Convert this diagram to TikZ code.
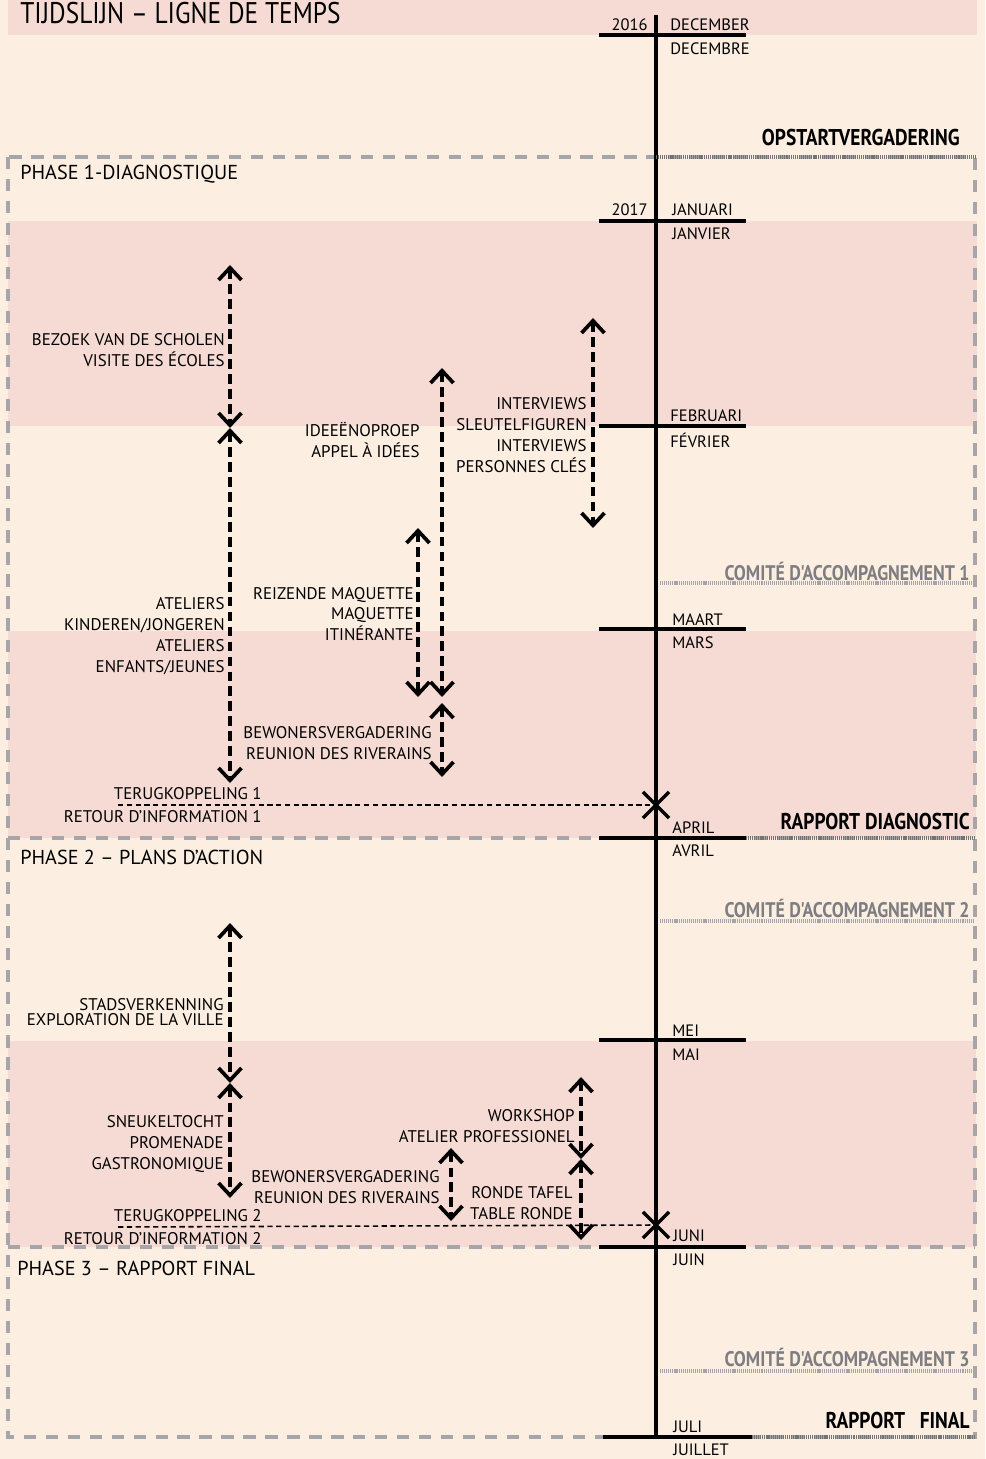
\documentclass[tikz,border=0pt]{standalone}
\usepackage{fontspec}
\setmainfont{PT Sans}
\newfontfamily\markfont[FakeStretch=0.85]{PT Sans}
\usetikzlibrary{arrows.meta,shapes.misc}

\definecolor{cream}{RGB}{252,239,225}
\definecolor{blush}{RGB}{246,219,213}
\definecolor{phasegray}{RGB}{165,165,170}
\definecolor{comitegray}{RGB}{125,125,130}

\begin{document}
\begin{tikzpicture}[
    x=0.02cm, y=-0.02cm,
    band/.style={fill=blush, draw=none},
    phasebox/.style={draw=phasegray, line width=2pt, dash pattern=on 7pt off 5.5pt},
    phaselabel/.style={font=\fontsize{11.5}{13}\selectfont, anchor=west, inner sep=0pt},
    timeline/.style={line width=2.4pt, black},
    monthtick/.style={line width=2.4pt, black},
    monthlabel/.style={font=\fontsize{9.4}{11}\selectfont, anchor=west, inner sep=0pt},
    yearlabel/.style={font=\fontsize{9.4}{11}\selectfont, anchor=east, inner sep=0pt},
    milestone/.style={font=\markfont\bfseries\fontsize{13}{15}\selectfont, anchor=east, inner sep=0pt},
    comite/.style={font=\markfont\bfseries\fontsize{12}{14}\selectfont, text=comitegray, anchor=east, inner sep=0pt},
    milestoneline/.style={line width=2pt, black!55, dash pattern=on 0.6pt off 0.5pt},
    comiteline/.style={line width=2pt, comitegray!70, dash pattern=on 0.6pt off 0.5pt},
    activity/.style={font=\fontsize{9.6}{11.9}\selectfont, align=right, anchor=east, inner sep=0pt},
    span/.style={{Straight Barb[length=7pt,width=13pt]}-{Straight Barb[length=7pt,width=13pt]}, line width=2.1pt, dash pattern=on 5.5pt off 3pt},
    feedback/.style={line width=0.9pt, dash pattern=on 3pt off 2pt},
    xmark/.style={draw, cross out, line width=1.9pt, minimum size=13pt, inner sep=0pt},
]

% === BACKGROUND ===
\fill[cream] (0,0) rectangle (985,1459);
\useasboundingbox (0,0) rectangle (985,1459);
\fill[band] (8,0) rectangle (977,35);
\fill[band] (8,221) rectangle (977,426);
\fill[band] (8,631) rectangle (976,838);
\fill[band] (8,1041) rectangle (976,1247);

\node[font=\markfont\fontsize{17}{19}\selectfont, anchor=base west, inner sep=0pt] (title) at (20,24) {TIJDSLIJN – LIGNE DE TEMPS};

% === PHASES ===
\draw[phasebox] (8,157) rectangle (975,1437);
\draw[phasebox] (8,838) -- (975,838);
\draw[phasebox] (8,1247) -- (975,1247);
\node[phaselabel] (phase1) at (20,174) {PHASE 1-DIAGNOSTIQUE};
\node[phaselabel] (phase2) at (20,857) {PHASE 2 – PLANS D'ACTION};
\node[phaselabel] (phase3) at (17,1268) {PHASE 3 – RAPPORT FINAL};

% === TIMELINE ===
\coordinate (tl-top) at (656,15);
\coordinate (tl-bottom) at (656,1437);
\draw[timeline] (tl-top) -- (tl-bottom);

% months
\draw[monthtick] (599,35) -- (746,35);
\node[yearlabel] (y2016) at (648,25) {2016};
\node[monthlabel] (dec-nl) at (670,25) {DECEMBER};
\node[monthlabel] (dec-fr) at (670,49) {DECEMBRE};

\draw[monthtick] (599,221) -- (746,221);
\node[yearlabel] (y2017) at (648,210) {2017};
\node[monthlabel] (jan-nl) at (672,210) {JANUARI};
\node[monthlabel] (jan-fr) at (672,234) {JANVIER};

\draw[monthtick] (599,426) -- (746,426);
\node[monthlabel] (feb-nl) at (670,416) {FEBRUARI};
\node[monthlabel] (feb-fr) at (670,440) {FÉVRIER};

\draw[monthtick] (599,629) -- (746,629);
\node[monthlabel] (mar-nl) at (672,620) {MAART};
\node[monthlabel] (mar-fr) at (672,643) {MARS};

\draw[monthtick] (599,838) -- (746,838);
\node[monthlabel] (apr-nl) at (672,828) {APRIL};
\node[monthlabel] (apr-fr) at (672,851) {AVRIL};

\draw[monthtick] (599,1040) -- (746,1040);
\node[monthlabel] (mei-nl) at (672,1031) {MEI};
\node[monthlabel] (mei-fr) at (672,1055) {MAI};

\draw[monthtick] (599,1247) -- (746,1247);
\node[monthlabel] (jun-nl) at (673,1236) {JUNI};
\node[monthlabel] (jun-fr) at (673,1260) {JUIN};

\draw[monthtick] (603,1437) -- (752,1437);
\node[monthlabel] (jul-nl) at (673,1427) {JULI};
\node[monthlabel] (jul-fr) at (673,1450) {JUILLET};

% === MILESTONES ===
\draw[milestoneline] (656,157) -- (975,157);
\node[milestone] (opstart) at (960,138) {OPSTARTVERGADERING};
\draw[comiteline] (660,583) -- (975,583);
\node[comite] (comite1) at (970,571) {COMITÉ D'ACCOMPAGNEMENT 1};
\draw[milestoneline] (746,838) -- (975,838);
\node[milestone] (diagnostic) at (970,821) {RAPPORT DIAGNOSTIC};
\draw[comiteline] (660,921) -- (975,921);
\node[comite] (comite2) at (970,908) {COMITÉ D'ACCOMPAGNEMENT 2};
\draw[comiteline] (660,1371) -- (975,1371);
\node[comite] (comite3) at (970,1357) {COMITÉ D'ACCOMPAGNEMENT 3};
\draw[milestoneline] (752,1437) -- (975,1437);
\node[milestone] (final) at (970,1420) {RAPPORT~~~FINAL};

% === PHASE 1 ACTIVITIES ===
\coordinate (bezoek-start) at (230,265);
\coordinate (bezoek-end) at (230,428);
\coordinate (ateliers-end) at (230,783);
\draw[span] (bezoek-start) -- (bezoek-end);
\draw[span] (bezoek-end) -- (ateliers-end);
\node[activity] (bezoek) at (225,350) {BEZOEK VAN DE SCHOLEN\\VISITE DES ÉCOLES};
\node[activity] (ateliers) at (225,636) {ATELIERS\\KINDEREN/JONGEREN\\ATELIERS\\ENFANTS/JEUNES};

\coordinate (ideeen-start) at (442,368);
\coordinate (ideeen-end) at (442,697);
\draw[span] (ideeen-start) -- (ideeen-end);
\node[activity] (ideeen) at (420,440) {IDEEËNOPROEP\\APPEL À IDÉES};

\coordinate (maquette-start) at (418,528);
\coordinate (maquette-end) at (418,697);
\draw[span] (maquette-start) -- (maquette-end);
\node[activity] (maquette) at (414,614) {REIZENDE MAQUETTE\\MAQUETTE\\ITINÉRANTE};

\coordinate (bewoners1-start) at (442,703);
\coordinate (bewoners1-end) at (442,777);
\draw[span] (bewoners1-start) -- (bewoners1-end);
\node[activity] (bewoners1) at (432,743) {BEWONERSVERGADERING\\REUNION DES RIVERAINS};

\coordinate (interviews-start) at (593,318);
\coordinate (interviews-end) at (593,528);
\draw[span] (interviews-start) -- (interviews-end);
\node[activity] (interviews) at (587,435) {INTERVIEWS\\SLEUTELFIGUREN\\INTERVIEWS\\PERSONNES CLÉS};

% feedback 1
\node[xmark] (terug1-mark) at (656,805) {};
\coordinate (terug1-start) at (118,805);
\draw[feedback] (terug1-start) -- (terug1-mark.center);
\node[activity, font=\fontsize{9.6}{13}\selectfont] (terug1) at (262,805) {TERUGKOPPELING 1\\RETOUR D'INFORMATION 1};

% === PHASE 2 ACTIVITIES ===
\coordinate (stad-start) at (230,923);
\coordinate (stad-end) at (230,1083);
\coordinate (sneukel-end) at (230,1198);
\draw[span] (stad-start) -- (stad-end);
\draw[span] (stad-end) -- (sneukel-end);
\node[activity, font=\fontsize{9.6}{8.4}\selectfont] (stad) at (224,1012) {STADSVERKENNING\\EXPLORATION DE LA VILLE};
\node[activity] (sneukel) at (224,1144) {SNEUKELTOCHT\\PROMENADE\\GASTRONOMIQUE};

\coordinate (bewoners2-start) at (451,1148);
\coordinate (bewoners2-end) at (451,1221);
\draw[span] (bewoners2-start) -- (bewoners2-end);
\node[activity] (bewoners2) at (440,1187) {BEWONERSVERGADERING\\REUNION DES RIVERAINS};

\coordinate (workshop-start) at (581,1077);
\coordinate (workshop-end) at (581,1159);
\coordinate (ronde-end) at (581,1240);
\draw[span] (workshop-start) -- (workshop-end);
\draw[span] (workshop-end) -- (ronde-end);
\node[activity] (workshop) at (575,1126) {WORKSHOP\\ATELIER PROFESSIONEL};
\node[activity] (ronde) at (573,1203) {RONDE TAFEL\\TABLE RONDE};

% feedback 2
\node[xmark] (terug2-mark) at (656,1225) {};
\coordinate (terug2-start) at (118,1227);
\draw[feedback] (terug2-start) -- (terug2-mark.center);
\node[activity, font=\fontsize{9.6}{13}\selectfont] (terug2) at (262,1227) {TERUGKOPPELING 2\\RETOUR D'INFORMATION 2};

\end{tikzpicture}
\end{document}
